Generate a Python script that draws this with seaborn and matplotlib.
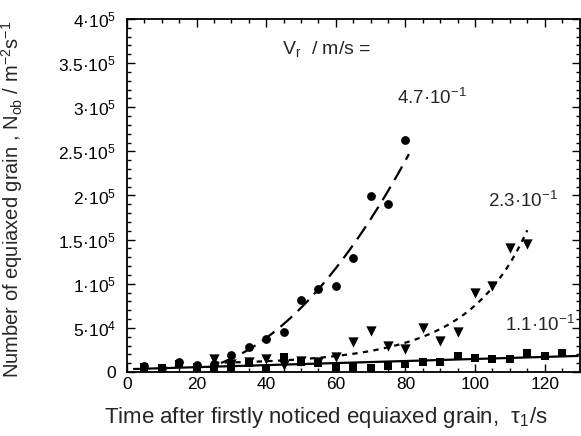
import numpy as np
import pandas as pd
import matplotlib
matplotlib.use("Agg")
import matplotlib.pyplot as plt
import seaborn as sns
from matplotlib.ticker import MultipleLocator, FixedLocator, FixedFormatter

# ---- data ----
circ_t = [5, 10, 15, 20, 25, 30, 35, 40, 45, 50, 55, 60, 65, 70, 75, 80]
circ_n = [7e3, 5e3, 1.1e4, 8e3, 9e3, 1.9e4, 2.8e4, 3.7e4, 4.5e4, 8.2e4, 9.4e4,
          9.8e4, 1.29e5, 1.99e5, 1.9e5, 2.63e5]

tri_t = [25, 30, 35, 40, 45, 50, 55, 60, 65, 70, 75, 80, 85, 90, 95, 100, 105, 110, 115]
tri_n = [1.5e4, 9e3, 1.1e4, 1.5e4, 8e3, 1.2e4, 1.1e4, 1.7e4, 3.35e4, 4.7e4, 2.9e4,
         2.6e4, 5e4, 3.55e4, 4.5e4, 8.9e4, 9.7e4, 1.41e5, 1.45e5]

sq_t = [5, 10, 15, 20, 25, 30, 35, 40, 45, 50, 55, 60, 65, 70, 75, 80, 85, 90, 95,
        100, 105, 110, 115, 120, 125]
sq_n = [6e3, 4e3, 9e3, 6e3, 4e3, 6e3, 1.05e4, 3e3, 1.7e4, 1.15e4, 1.05e4, 6e3, 6e3,
        4e3, 7e3, 9e3, 1.15e4, 1.15e4, 1.85e4, 1.55e4, 1.45e4, 1.45e4, 2.2e4, 1.8e4, 2.2e4]

series_labels = ["4.7·10$^{-1}$", "2.3·10$^{-1}$", "1.1·10$^{-1}$"]
ytick_vals = [0, 5e4, 1e5, 1.5e5, 2e5, 2.5e5, 3e5, 3.5e5, 4e5]
ytick_labels = ["0", "5·10$^4$", "1·10$^5$", "1.5·10$^5$", "2·10$^5$",
                "2.5·10$^5$", "3·10$^5$", "3.5·10$^5$", "4·10$^5$"]

# ---- fitted curves (computed from the data) ----
ct = np.array(circ_t, float); cn = np.array(circ_n, float)
m = ct >= 30
k1 = np.polyfit(ct[m], np.sqrt(cn[m]), 1)
cx = np.linspace(27, 81, 200)
cy = np.polyval(k1, cx) ** 2

tt = np.array(tri_t, float); tn = np.array(tri_n, float)
k2 = np.polyfit(tt, np.log(tn), 2)
tx = np.linspace(25, 115, 200)
ty = np.exp(np.polyval(k2, tx))

st = np.array(sq_t, float); sn = np.array(sq_n, float)
k3 = np.polyfit(st, sn, 1)
sx = np.linspace(2, 129.5, 50)
sy = np.polyval(k3, sx)

# ---- plotting ----
sns.set_style("ticks")
plt.rcParams["font.family"] = ["Liberation Sans", "DejaVu Sans"]
plt.rcParams["mathtext.fontset"] = "custom"
plt.rcParams["mathtext.rm"] = "Liberation Sans"
plt.rcParams["mathtext.it"] = "Liberation Sans:italic"
plt.rcParams["mathtext.bf"] = "Liberation Sans:bold"

fig = plt.figure(figsize=(5.81, 4.36), dpi=100)
ax = fig.add_axes([127 / 581, 64 / 436, (579.5 - 127) / 581, (372 - 19) / 436])

sns.lineplot(x=cx, y=cy, ax=ax, color="black", lw=1.6, linestyle=(0, (7, 3.5)))
sns.lineplot(x=tx, y=ty, ax=ax, color="black", lw=1.6, linestyle=(0, (2.4, 2.4)))
sns.lineplot(x=sx, y=sy, ax=ax, color="black", lw=1.6)

sns.scatterplot(x=sq_t, y=sq_n, ax=ax, marker="s", s=36, color="black", edgecolor="black", linewidth=0, zorder=3)
sns.scatterplot(x=tri_t, y=tri_n, ax=ax, marker="v", s=55, color="black", edgecolor="black", linewidth=0, zorder=3)
sns.scatterplot(x=circ_t, y=circ_n, ax=ax, marker="o", s=40, color="black", edgecolor="black", linewidth=0, zorder=3)

ax.set_xlim(0, 130)
ax.set_ylim(0, 4e5)
ax.xaxis.set_major_locator(MultipleLocator(20))
ax.xaxis.set_minor_locator(MultipleLocator(5))
ax.yaxis.set_major_locator(FixedLocator(ytick_vals))
ax.yaxis.set_major_formatter(FixedFormatter(ytick_labels))
ax.yaxis.set_minor_locator(MultipleLocator(1e4))
ax.tick_params(which="both", direction="in", top=True, right=True, colors="black",
               labelsize=12.5, width=1)
ax.tick_params(axis="y", which="major", pad=8)
ax.tick_params(which="major", length=6)
ax.tick_params(which="minor", length=3)
for s in ax.spines.values():
    s.set_linewidth(1.3)
    s.set_color("black")

ax.set_xlabel("Time after firstly noticed equiaxed grain,  τ$_\\mathrm{1}$/s", fontsize=16)
ax.set_ylabel("Number of equiaxed grain , N$_\\mathrm{ob}$ / m$^{-2}$s$^{-1}$", fontsize=14.5)
ax.xaxis.set_label_coords(0.44, -0.093)
ax.yaxis.set_label_coords(-0.225, 0.49)

ax.text(0.343, 0.915, "V$_\\mathrm{r}$  / m/s =", transform=ax.transAxes, fontsize=14, va="center", ha="left")
ax.text(0.596, 0.777, series_labels[0], transform=ax.transAxes, fontsize=13.5, va="center", ha="left")
ax.text(0.798, 0.485, series_labels[1], transform=ax.transAxes, fontsize=13.5, va="center", ha="left")
ax.text(0.835, 0.133, series_labels[2], transform=ax.transAxes, fontsize=13.5, va="center", ha="left")

fig.savefig("out.png", dpi=100)
